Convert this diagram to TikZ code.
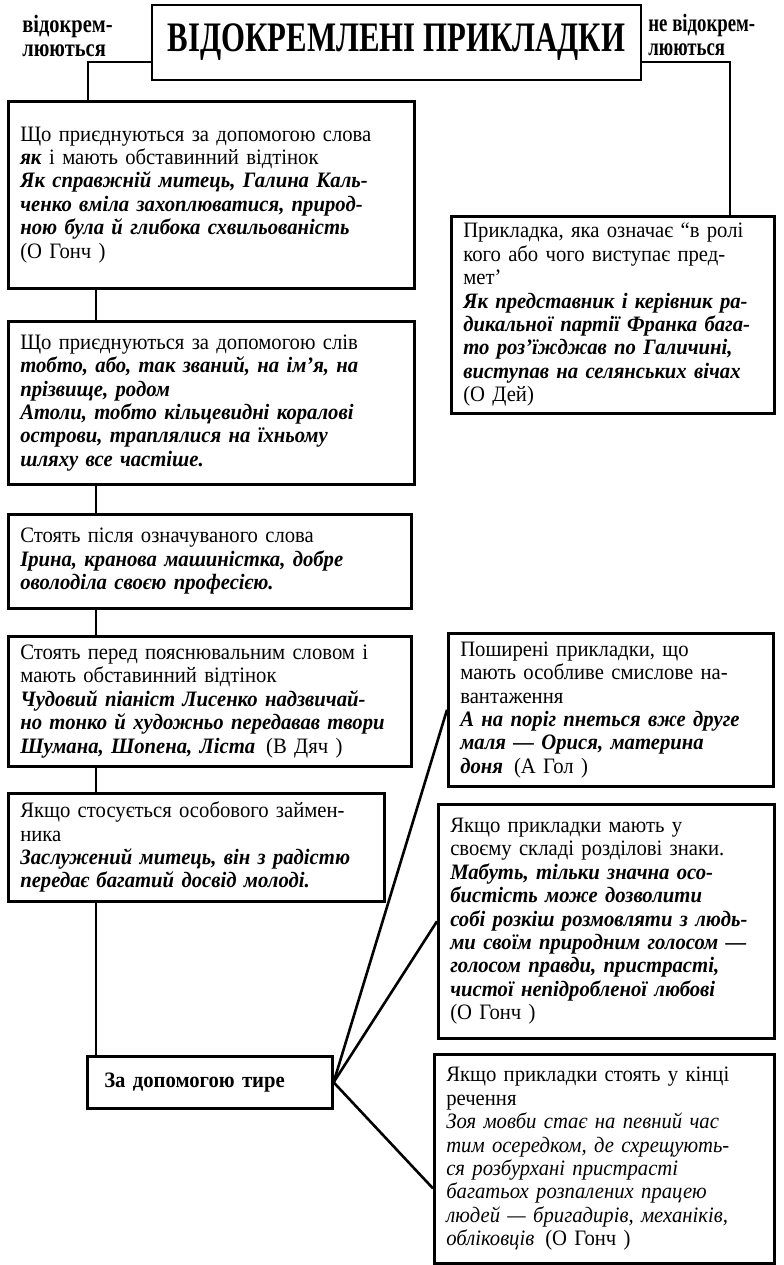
\documentclass[tikz,border=0pt]{standalone}
\usepackage{fontspec}
\setmainfont{Liberation Serif}[FakeStretch=0.94]
\usepackage{graphicx}
\usepackage{tikz}
\usetikzlibrary{positioning,calc}
\tikzset{
  titlebox/.style={draw, line width=1.4pt, minimum width=244.5pt, minimum height=37.5pt, inner sep=0pt},
  sidelabel/.style={align=left, inner sep=0pt, font=\bfseries\fontsize{12.5}{12}\selectfont},
  rulebox/.style={draw, line width=1.3pt, anchor=north west, align=left, inner xsep=6pt, inner ysep=3pt, font=\fontsize{11}{11.7}\selectfont},
  link/.style={line width=1.3pt}
}
\newcommand{\exmpl}[1]{\textbf{\textit{#1}}}

\begin{document}
\begin{tikzpicture}[x=0.5pt, y=-0.5pt]
  \useasboundingbox (0,0) rectangle (783,1265);
  % heading
  \node[titlebox] (title) at (396.5,42.5) {\scalebox{0.78}[1]{\bfseries\fontsize{21}{21}\selectfont ВІДОКРЕМЛЕНІ ПРИКЛАДКИ}};
  \node[sidelabel, anchor=base west] (sepyes) at (22,32) {\scalebox{0.87}[1]{\begin{tabular}[t]{@{}l@{}}відокрем-\\люються\end{tabular}}};
  \node[sidelabel, anchor=base west] (sepno) at (648,31) {\scalebox{0.8}[1]{\begin{tabular}[t]{@{}l@{}}не відокрем-\\люються\end{tabular}}};
  % left column
  \node[rulebox, text width=191pt, minimum height=93.5pt] (b1) at (7,100) {%
    Що приєднуються за допомогою слова\\
    \exmpl{як} і мають обставинний відтінок\\
    \exmpl{Як справжній митець, Галина Каль-}\\
    \exmpl{ченко вміла захоплюватися, природ-}\\
    \exmpl{ною була й глибока схвильованість}\\
    (О Гонч )};
  \node[rulebox, text width=191pt, minimum height=81.5pt] (b2) at (7,320) {%
    Що приєднуються за допомогою слів\\
    \exmpl{тобто, або, так званий, на ім’я, на}\\
    \exmpl{прізвище, родом}\\
    \exmpl{Атоли, тобто кільцевидні коралові}\\
    \exmpl{острови, траплялися на їхньому}\\
    \exmpl{шляху все частіше.}};
  \node[rulebox, text width=189.5pt, minimum height=47pt] (b3) at (7,513) {%
    Стоять після означуваного слова\\
    \exmpl{Ірина, кранова машиністка, добре}\\
    \exmpl{оволоділа своєю професією.}};
  \node[rulebox, text width=189.5pt, minimum height=65pt] (b4) at (7,635) {%
    Стоять перед пояснювальним словом і\\
    мають обставинний відтінок\\
    \exmpl{Чудовий піаніст Лисенко надзвичай-}\\
    \exmpl{но тонко й художньо передавав твори}\\
    \exmpl{Шумана, Шопена, Ліста}\enspace(В Дяч )};
  \node[rulebox, text width=176pt, minimum height=54pt] (b5) at (7,792) {%
    Якщо стосується особового займен-\\
    ника\\
    \exmpl{Заслужений митець, він з радістю}\\
    \exmpl{передає багатий досвід молоді.}};
  \node[rulebox, text width=105.5pt, inner xsep=8.5pt, minimum height=26pt] (dash) at (86,1055) {\textbf{За допомогою тире}};
  % right column
  \node[rulebox, text width=149.5pt, minimum height=98.5pt] (pA) at (450,215) {%
    Прикладка, яка означає “в ролі\\
    кого або чого виступає пред-\\
    мет’\\
    \exmpl{Як представник і керівник ра-}\\
    \exmpl{дикальної партії Франка бага-}\\
    \exmpl{то роз’їжджав по Галичині,}\\
    \exmpl{виступав на селянських вічах}\\
    (О Дей)};
  \node[rulebox, text width=150.5pt, minimum height=76.5pt] (pB) at (447,632) {%
    Поширені прикладки, що\\
    мають особливе смислове на-\\
    вантаження\\
    \exmpl{А на поріг пнеться вже друге}\\
    \exmpl{маля — Орися, материна}\\
    \exmpl{доня}\enspace(А Гол )};
  \node[rulebox, text width=156pt, minimum height=117pt] (pC) at (437,803) {%
    Якщо прикладки мають у\\
    своєму складі розділові знаки.\\
    \exmpl{Мабуть, тільки значна осо-}\\
    \exmpl{бистість може дозволити}\\
    \exmpl{собі розкіш розмовляти з людь-}\\
    \exmpl{ми своїм природним голосом —}\\
    \exmpl{голосом правди, пристрасті,}\\
    \exmpl{чистої непідробленої любові}\\
    (О Гонч )};
  \node[rulebox, text width=158pt, minimum height=104.5pt] (pD) at (433,1053) {%
    Якщо прикладки стоять у кінці\\
    речення\\
    \textit{Зоя мовби стає на певний час}\\
    \textit{тим осередком, де схрещують-}\\
    \textit{ся розбурхані пристрасті}\\
    \textit{багатьох розпалених працею}\\
    \textit{людей — бригадирів, механіків,}\\
    \textit{обліковців}\enspace(О Гонч )};
  % connectors
  \coordinate (lj) at (88,62);
  \coordinate (rj) at (730,62);
  \coordinate (sp) at (96,0);
  \draw[link] (title.west |- lj) -- (lj) -- (lj |- b1.north);
  \draw[link] (title.east |- rj) -- (rj) -- (rj |- pA.north);
  \draw[link] (sp |- b1.south) -- (sp |- b2.north);
  \draw[link] (sp |- b2.south) -- (sp |- b3.north);
  \draw[link] (sp |- b3.south) -- (sp |- b4.north);
  \draw[link] (sp |- b4.south) -- (sp |- b5.north);
  \draw[link] (sp |- b5.south) -- (sp |- dash.north);
  \draw[link] (dash.east) -- (pB.west);
  \draw[link] (dash.east) -- (pC.west);
  \draw[link] (dash.east) -- ($(pD.north west)!0.64!(pD.south west)$);
\end{tikzpicture}
\end{document}
